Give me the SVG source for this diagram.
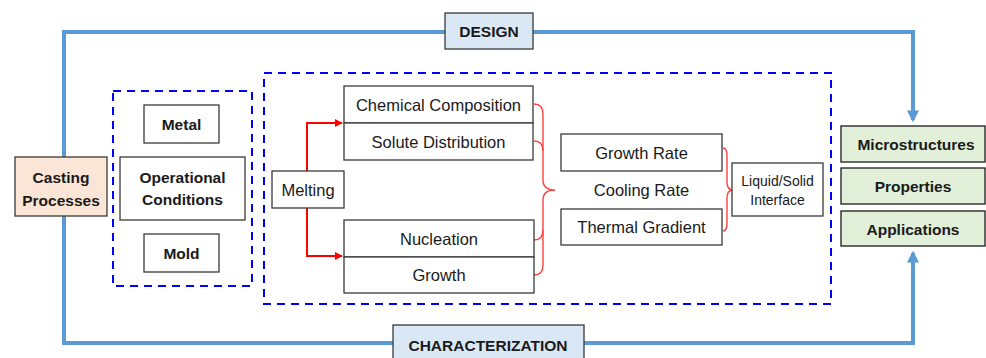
<svg xmlns="http://www.w3.org/2000/svg" width="986" height="358" viewBox="0 0 986 358">
<style>
text{font-family:"Liberation Sans",Arial,sans-serif;fill:#1a1a1a;text-anchor:middle}
.b{font-weight:bold;font-size:15.5px}
.r{font-size:16.5px}
.s{font-size:14px}
.box{fill:#fff;stroke:#3a3a3a;stroke-width:1.3}
.dash{fill:none;stroke:#0000ff;stroke-width:2;stroke-dasharray:8,6}
.loop{fill:none;stroke:#5b9bd5;stroke-width:4}
.red{fill:none;stroke:#ff0000;stroke-width:2}
.brace{fill:none;stroke:#ff4040;stroke-width:1.4}
</style>
<defs>
<marker id="ab" viewBox="0 0 10 10" refX="8" refY="5" markerWidth="3" markerHeight="3" orient="auto"><path d="M0,0L10,5L0,10z" fill="#5b9bd5"/></marker>
<marker id="ar" viewBox="0 0 10 10" refX="9" refY="5" markerWidth="4" markerHeight="4" orient="auto"><path d="M0,0L10,5L0,10z" fill="#ff0000"/></marker>
</defs>
<g id="connectors">
<path class="loop" d="M64,157V32H913V120" marker-end="url(#ab)"/>
<path class="loop" d="M64,216V343H913V253" marker-end="url(#ab)"/>
<path class="red" d="M307,171V123H342" marker-end="url(#ar)"/>
<path class="red" d="M307,208V256H342" marker-end="url(#ar)"/>
<path class="brace" d="M534,104Q543,104 543,114V180Q543,190 555,190Q543,190 543,200V265Q543,275 534,275"/>
<path class="brace" d="M534,141Q543,141 543,151"/>
<path class="brace" d="M534,240Q543,240 543,230"/>
<path class="brace" d="M723,148Q727,148 727,156V182Q727,190 733,190Q727,190 727,198V223Q727,231 723,231"/>
</g>
<g id="groups">
<rect class="dash" x="113" y="91" width="139" height="195"/>
<rect class="dash" x="264" y="73" width="567" height="231"/>
</g>
<g id="design"><rect x="445" y="13" width="88" height="36" fill="#dae8f5" stroke="#3a3a3a" stroke-width="1.3"/><text class="b" x="489" y="37">DESIGN</text></g>
<g id="characterization"><rect x="393" y="325" width="191" height="36" fill="#dae8f5" stroke="#3a3a3a" stroke-width="1.3"/><text class="b" x="488" y="351">CHARACTERIZATION</text></g>
<g id="casting"><rect x="15" y="157" width="92" height="59" fill="#fbe5d6" stroke="#3a3a3a" stroke-width="1.3"/><text class="b" x="61" y="183">Casting</text><text class="b" x="61" y="206">Processes</text></g>
<g id="metal"><rect class="box" x="144" y="105" width="75" height="38"/><text class="b" x="181.5" y="129.5">Metal</text></g>
<g id="operational"><rect class="box" x="120" y="157" width="125" height="63"/><text class="b" x="182.5" y="183">Operational</text><text class="b" x="182.5" y="205">Conditions</text></g>
<g id="mold"><rect class="box" x="144" y="234" width="75" height="38"/><text class="b" x="181.5" y="258.5">Mold</text></g>
<g id="melting"><rect class="box" x="272" y="171" width="72" height="37"/><text class="r" x="308" y="195.5">Melting</text></g>
<g id="chemical"><rect class="box" x="344" y="86" width="189" height="37"/><text class="r" x="438.5" y="110.5">Chemical Composition</text></g>
<g id="solute"><rect class="box" x="344" y="123" width="189" height="37"/><text class="r" x="438.5" y="147.5">Solute Distribution</text></g>
<g id="nucleation"><rect class="box" x="344" y="220" width="190" height="37"/><text class="r" x="439" y="244.5">Nucleation</text></g>
<g id="growth"><rect class="box" x="344" y="257" width="190" height="36"/><text class="r" x="439" y="281">Growth</text></g>
<g id="growthrate"><rect class="box" x="561" y="134" width="161" height="37"/><text class="r" x="641.5" y="158.5">Growth Rate</text></g>
<g id="coolingrate"><text class="r" x="641.5" y="196">Cooling Rate</text></g>
<g id="thermal"><rect class="box" x="561" y="209" width="161" height="36"/><text class="r" x="641.5" y="233">Thermal Gradient</text></g>
<g id="interface"><rect class="box" x="732" y="163" width="91" height="53"/><text class="s" x="777.5" y="185.5">Liquid/Solid</text><text class="s" x="777.5" y="204.5">Interface</text></g>
<g id="micro"><rect x="841" y="126" width="144" height="36" fill="#e2efd9" stroke="#1a1a1a" stroke-width="1.3"/><text class="b" x="916" y="150">Microstructures</text></g>
<g id="props"><rect x="841" y="168" width="144" height="36" fill="#e2efd9" stroke="#1a1a1a" stroke-width="1.3"/><text class="b" x="913" y="192">Properties</text></g>
<g id="apps"><rect x="841" y="211" width="144" height="35" fill="#e2efd9" stroke="#1a1a1a" stroke-width="1.3"/><text class="b" x="913" y="234.5">Applications</text></g>
</svg>
